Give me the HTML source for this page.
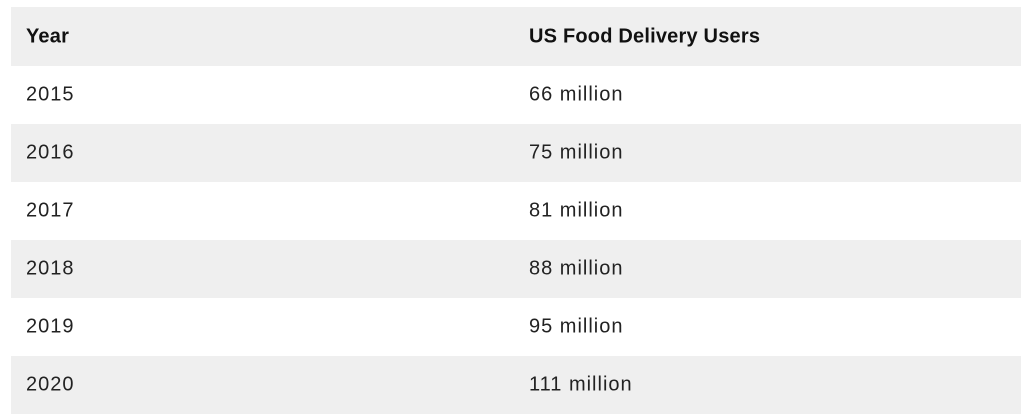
<!DOCTYPE html>
<html><head><style>
html,body{margin:0;padding:0;background:#fff;width:1024px;height:414px;overflow:hidden}
.t{position:absolute;left:11px;top:7px;width:1010px}
.r{height:58px;position:relative;font-family:"Liberation Sans",sans-serif;font-size:20px;color:#222;letter-spacing:1px}
.r.g{background:#efefef}
.r.h{height:59px;font-weight:bold;color:#111;letter-spacing:0.2px}
.r span{position:absolute;top:50%;transform:translateY(-50%)}
.a{left:15px}.b{left:518px}
</style></head><body>
<div class="t">
<div class="r g h"><span class="a">Year</span><span class="b">US Food Delivery Users</span></div>
<div class="r"><span class="a">2015</span><span class="b">66 million</span></div>
<div class="r g"><span class="a">2016</span><span class="b">75 million</span></div>
<div class="r"><span class="a">2017</span><span class="b">81 million</span></div>
<div class="r g"><span class="a">2018</span><span class="b">88 million</span></div>
<div class="r"><span class="a">2019</span><span class="b">95 million</span></div>
<div class="r g"><span class="a">2020</span><span class="b">111 million</span></div>
</div>
</body></html>
